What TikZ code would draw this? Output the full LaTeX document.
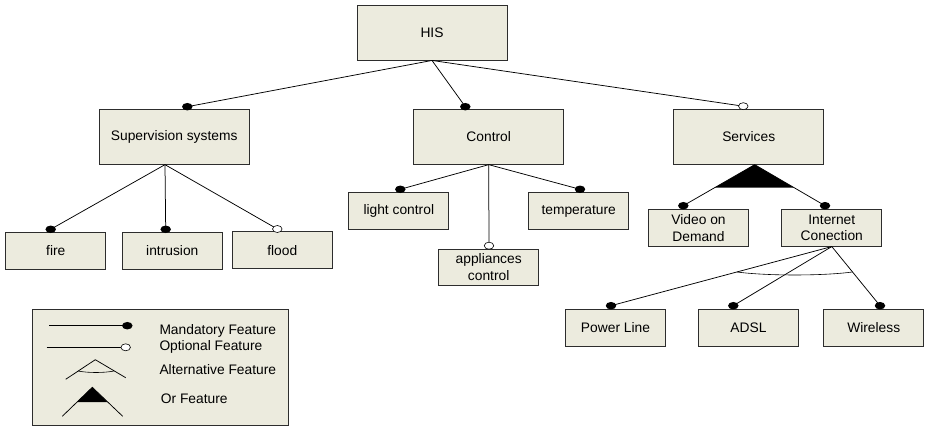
\documentclass[tikz,border=0pt]{standalone}
\usepackage{fontspec}
\setmainfont{Liberation Sans}
\usetikzlibrary{calc,shapes.geometric}
\definecolor{boxfill}{RGB}{236,235,222}
\definecolor{boxdraw}{RGB}{45,45,45}
\begin{document}
\begin{tikzpicture}[x=1pt,y=-1pt,
  feat/.style={draw=boxdraw,line width=0.9pt,fill=boxfill,minimum width=150pt,minimum height=55pt,inner sep=0pt,font=\fontsize{13.8}{16.6}\selectfont,align=center},
  sfeat/.style={feat,minimum width=100pt,minimum height=36.6pt},
  mdot/.style={ellipse,fill=black,minimum width=10.5pt,minimum height=7.5pt,inner sep=0pt},
  odot/.style={ellipse,draw=black,fill=white,line width=0.6pt,minimum width=9.5pt,minimum height=7pt,inner sep=0pt},
  conn/.style={line width=0.75pt,black},
  legtext/.style={anchor=west,font=\fontsize{13.8}{16}\selectfont,inner sep=0pt}
]
\useasboundingbox (0,0) rectangle (926,427);
% features
\node[feat] (his) at (432,32.5) {HIS};
\node[feat] (sup) at (174.2,136.7) {Supervision systems};
\node[feat] (ctl) at (488.7,136.7) {Control};
\node[feat] (srv) at (748.7,136.7) {Services};
\node[sfeat] (fire) at (55.8,251) {fire};
\node[sfeat] (intr) at (172.3,251) {intrusion};
\node[sfeat] (flood) at (282.3,250.2) {flood};
\node[sfeat] (light) at (398.8,211) {light control};
\node[sfeat] (temp) at (578.7,211) {temperature};
\node[sfeat] (appl) at (488.7,267.3) {appliances\\control};
\node[sfeat] (video) at (698.5,227.8) {Video on\\Demand};
\node[sfeat] (inet) at (831.8,227.8) {Internet\\Conection};
\node[sfeat] (power) at (615.5,327.7) {Power Line};
\node[sfeat] (adsl) at (748.5,327.7) {ADSL};
\node[sfeat] (wire) at (873.7,327.7) {Wireless};
% junctions
\coordinate (supj) at ([xshift=-9.2pt]sup.south);
\coordinate (srvj) at ([xshift=6pt]srv.south);
% dot positions
\coordinate (dsup) at (187.3,106.7);
\coordinate (dctl) at (465.3,106.7);
\coordinate (dsrv) at (743.3,106.2);
\coordinate (dfire) at (50.7,229.3);
\coordinate (dintr) at (165.7,229.3);
\coordinate (dflood) at (277.3,229);
\coordinate (dlight) at (400.3,189.3);
\coordinate (dtemp) at (580,189.3);
\coordinate (dappl) at (489,245.7);
\coordinate (dvideo) at (683.3,205.7);
\coordinate (dinet) at (825,205.7);
\coordinate (dpower) at (611,305.7);
\coordinate (dadsl) at (733.3,305.7);
\coordinate (dwire) at (880,305.7);
% connectors
\draw[conn] (his.south) -- (dsup);
\draw[conn] (his.south) -- (dctl);
\draw[conn] (his.south) -- (dsrv);
\draw[conn] (supj) -- (dfire);
\draw[conn] (supj) -- (dintr);
\draw[conn] (supj) -- (dflood);
\draw[conn] (ctl.south) -- (dlight);
\draw[conn] (ctl.south) -- (dtemp);
\draw[conn] (ctl.south) -- (dappl);
\draw[conn] (srvj) -- (dvideo) coordinate[pos=0.56] (or1);
\draw[conn] (srvj) -- (dinet) coordinate[pos=0.56] (or2);
\fill[black] (srvj) -- (or1) -- (or2) -- cycle;
\draw[conn] (inet.south) -- (dpower) coordinate[pos=0.43] (alt1);
\draw[conn] (inet.south) -- (dadsl);
\draw[conn] (inet.south) -- (dwire) coordinate[pos=0.43] (alt2);
\draw[conn,line width=0.6pt] (alt1) .. controls ($(alt1)+(30,4)$) and ($(alt2)+(-30,4)$) .. (alt2);
% dots
\foreach \d in {dsup,dctl,dfire,dintr,dlight,dtemp,dvideo,dinet,dpower,dadsl,dwire}
  \node[mdot] at (\d) {};
\foreach \d in {dsrv,dflood,dappl}
  \node[odot] at (\d) {};
% legend
\node[draw=boxdraw,fill=boxfill,line width=0.9pt,minimum width=256pt,minimum height=116.4pt,inner sep=0pt] (legend) at (160.8,367.5) {};
\draw[conn] (49,325.7) -- (127.3,325.7);
\node[mdot] at (127.3,325.7) {};
\draw[conn] (46.7,347.3) -- (125.7,347.3);
\node[odot] at (125.7,347.3) {};
\draw[conn] (65.7,379.3) -- (95.3,359.7) -- (125.7,377.7);
\draw[conn,line width=0.6pt] (78,371) .. controls (88,373) and (104,373) .. (114,371);
\draw[conn] (62.3,416.3) -- (92.3,387.3) -- (122.7,416.3);
\fill[black] (92.3,387.3) -- (77.1,402) -- (107.5,402) -- cycle;
\node[legtext] at (159.3,330.7) {Mandatory Feature};
\node[legtext] at (159.3,346.7) {Optional Feature};
\node[legtext] at (159.3,369.7) {Alternative Feature};
\node[legtext] at (160.7,399) {Or Feature};
\end{tikzpicture}
\end{document}
